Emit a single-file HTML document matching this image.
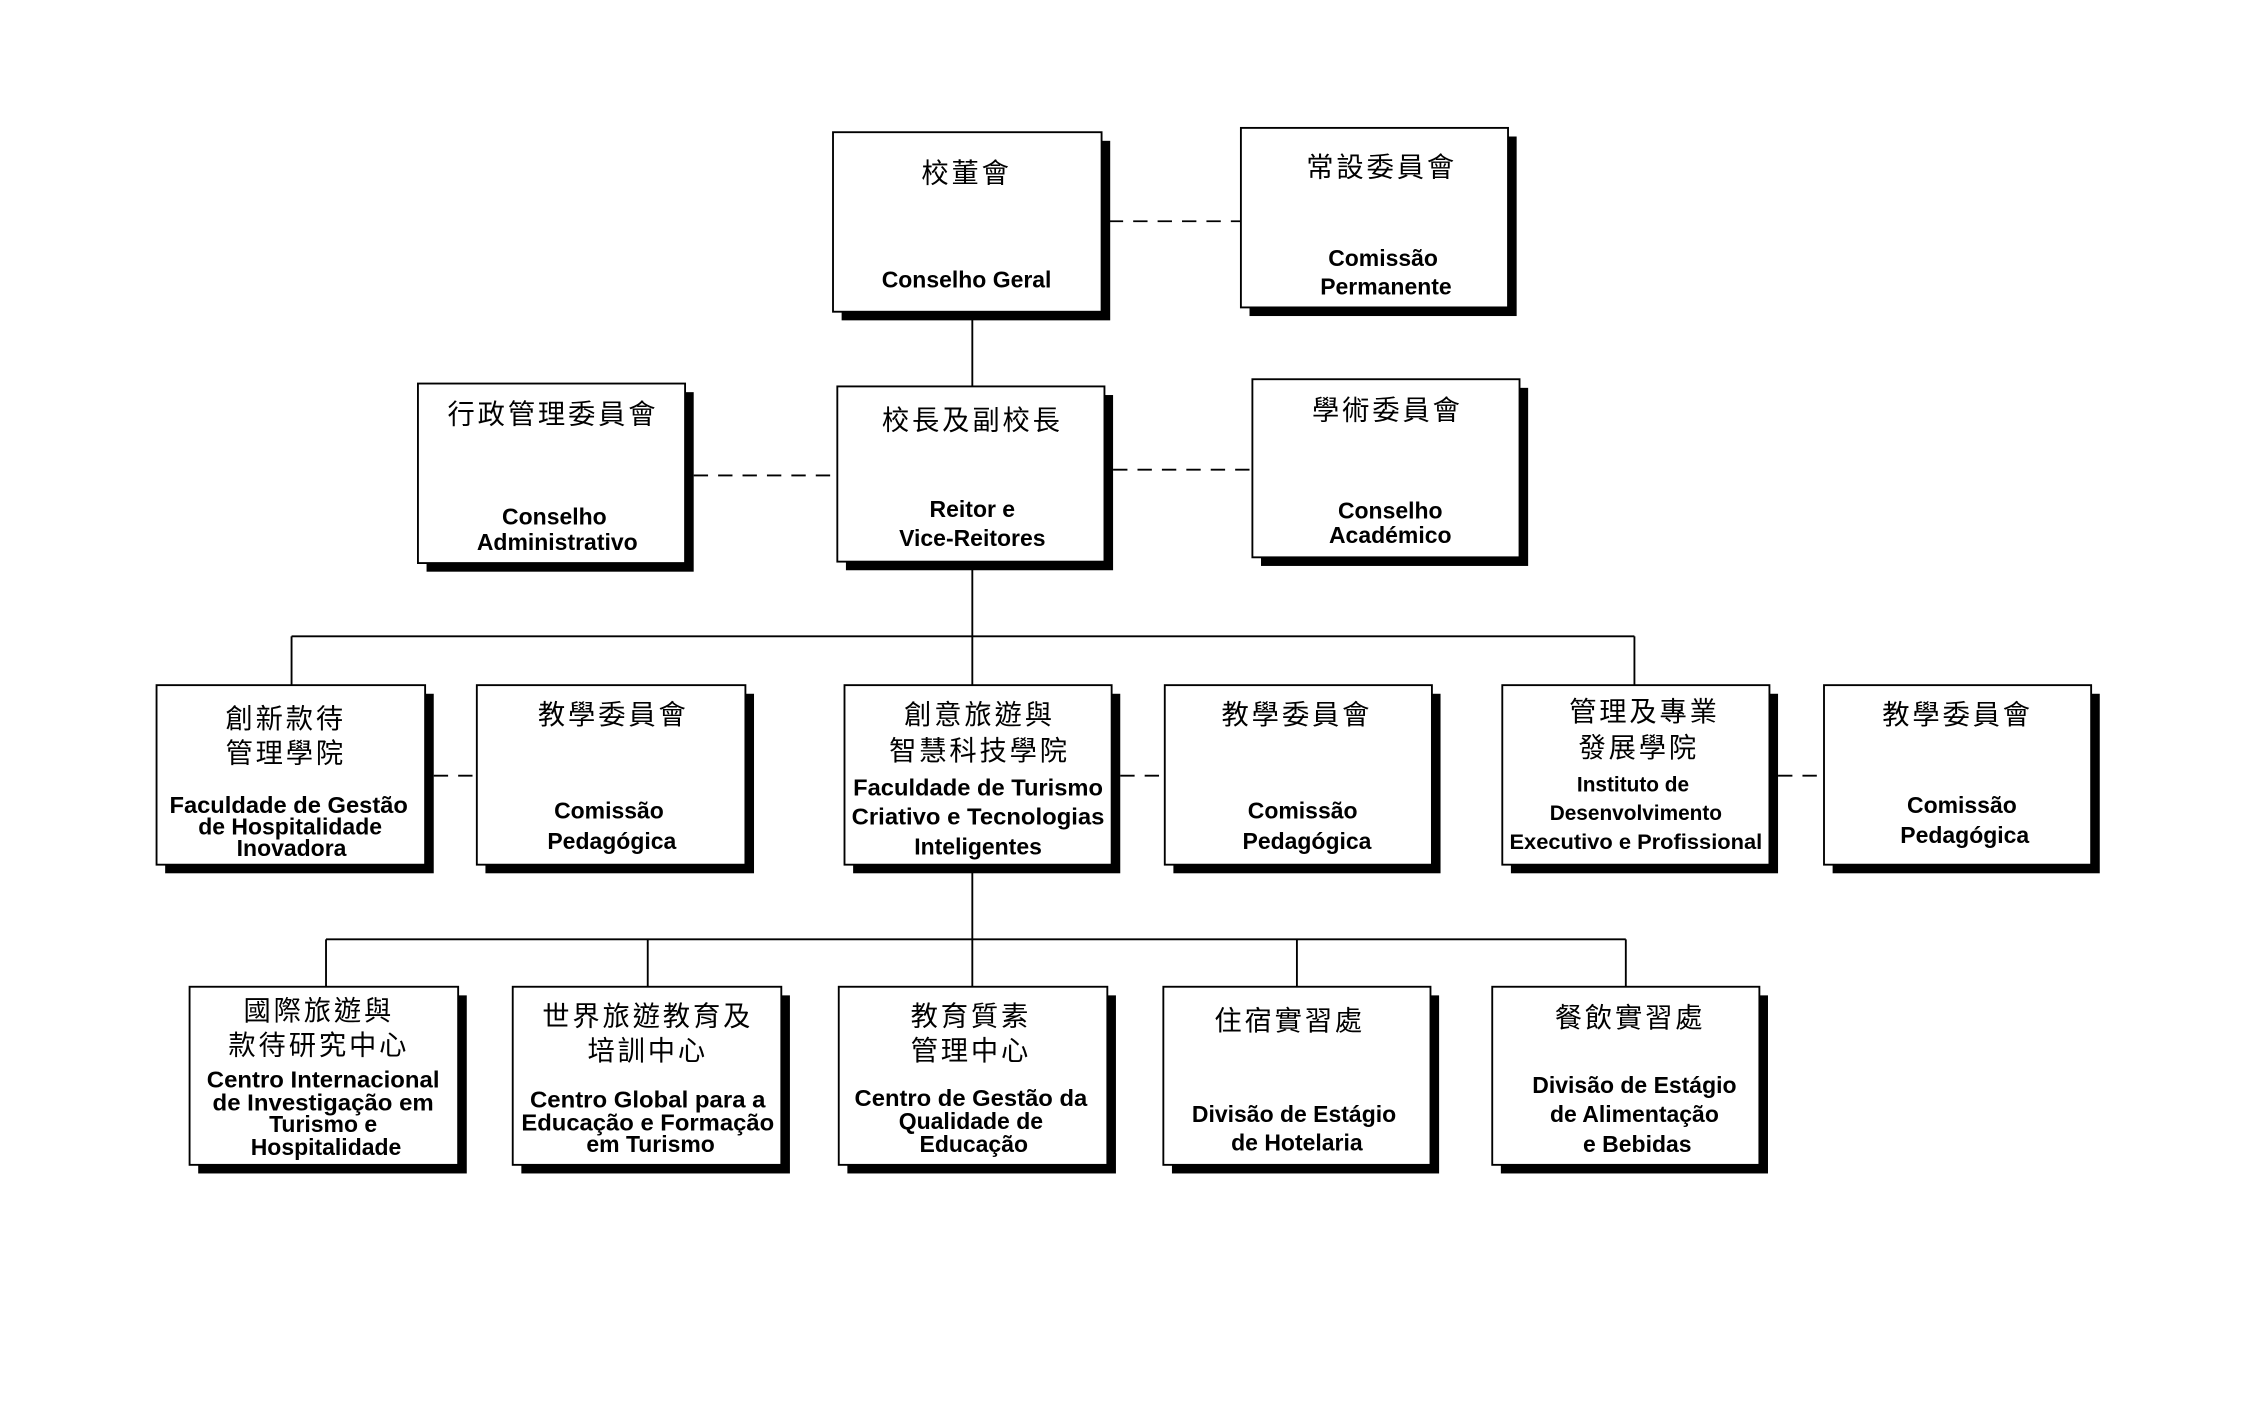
<!DOCTYPE html>
<html><head><meta charset="utf-8"><style>
html,body{margin:0;padding:0;background:#fff;}
svg{display:block}
.c{font-family:"Liberation Sans","Noto Sans CJK TC",sans-serif;font-size:19px;letter-spacing:2px;text-anchor:middle;fill:#000}
.l{font-family:"Liberation Sans",sans-serif;font-weight:bold;font-size:16px;text-anchor:middle;fill:#000}
.s{font-size:14.5px}
</style></head><body>
<svg width="2252" height="1422" viewBox="0 0 1568 990" xmlns="http://www.w3.org/2000/svg">
<g stroke="#000" stroke-width="1.3" fill="none">
<line x1="677" y1="217" x2="677" y2="269"/>
<line x1="677" y1="391" x2="677" y2="477"/>
<line x1="203" y1="443" x2="1138" y2="443"/>
<line x1="203" y1="443" x2="203" y2="477"/>
<line x1="1138" y1="443" x2="1138" y2="477"/>
<line x1="677" y1="602" x2="677" y2="687"/>
<line x1="227" y1="654" x2="1132" y2="654"/>
<line x1="227" y1="654" x2="227" y2="687"/>
<line x1="451" y1="654" x2="451" y2="687"/>
<line x1="903" y1="654" x2="903" y2="687"/>
<line x1="1132" y1="654" x2="1132" y2="687"/>
<g stroke-dasharray="10,7">
<line x1="772" y1="154" x2="864" y2="154"/>
<line x1="483" y1="331" x2="583" y2="331"/>
<line x1="775" y1="327" x2="872" y2="327"/>
<line x1="302" y1="540" x2="332" y2="540"/>
<line x1="780" y1="540" x2="811" y2="540"/>
<line x1="1238" y1="540" x2="1270" y2="540"/>
</g>
</g>
<g fill="#000">
<rect x="586" y="98" width="187" height="125"/>
<rect x="870" y="95" width="186" height="125"/>
<rect x="589" y="275" width="186" height="122"/>
<rect x="297" y="273" width="186" height="125"/>
<rect x="878" y="270" width="186" height="124"/>
<rect x="115" y="483" width="187" height="125"/>
<rect x="338" y="483" width="187" height="125"/>
<rect x="594" y="483" width="186" height="125"/>
<rect x="817" y="483" width="186" height="125"/>
<rect x="1052" y="483" width="186" height="125"/>
<rect x="1276" y="483" width="186" height="125"/>
<rect x="138" y="693" width="187" height="124"/>
<rect x="363" y="693" width="187" height="124"/>
<rect x="590" y="693" width="187" height="124"/>
<rect x="816" y="693" width="186" height="124"/>
<rect x="1045" y="693" width="186" height="124"/>
</g>
<g fill="#fff" stroke="#000" stroke-width="1.3">
<rect x="580" y="92" width="187" height="125"/>
<rect x="864" y="89" width="186" height="125"/>
<rect x="583" y="269" width="186" height="122"/>
<rect x="291" y="267" width="186" height="125"/>
<rect x="872" y="264" width="186" height="124"/>
<rect x="109" y="477" width="187" height="125"/>
<rect x="332" y="477" width="187" height="125"/>
<rect x="588" y="477" width="186" height="125"/>
<rect x="811" y="477" width="186" height="125"/>
<rect x="1046" y="477" width="186" height="125"/>
<rect x="1270" y="477" width="186" height="125"/>
<rect x="132" y="687" width="187" height="124"/>
<rect x="357" y="687" width="187" height="124"/>
<rect x="584" y="687" width="187" height="124"/>
<rect x="810" y="687" width="186" height="124"/>
<rect x="1039" y="687" width="186" height="124"/>
</g>
<g>
<text class="c" x="673" y="127">校董會</text>
<text class="l" x="673" y="200">Conselho Geral</text>
<text class="c" x="962" y="123">常設委員會</text>
<text class="l" x="963" y="185">Comissão</text>
<text class="l" x="965" y="205">Permanente</text>
<text class="c" x="677" y="299">校長及副校長</text>
<text class="l" x="677" y="360">Reitor e</text>
<text class="l" x="677" y="380">Vice-Reitores</text>
<text class="c" x="385" y="295">行政管理委員會</text>
<text class="l" x="386" y="365">Conselho</text>
<text class="l" x="388" y="383">Administrativo</text>
<text class="c" x="966" y="292">學術委員會</text>
<text class="l" x="968" y="361">Conselho</text>
<text class="l" x="968" y="378">Académico</text>

<text class="c" x="199" y="507">創新款待</text>
<text class="c" x="199" y="531">管理學院</text>
<text class="l" x="201" y="566" textLength="166" lengthAdjust="spacingAndGlyphs">Faculdade de Gestão</text>
<text class="l" x="202" y="581">de Hospitalidade</text>
<text class="l" x="203" y="596">Inovadora</text>
<text class="c" x="427" y="504">教學委員會</text>
<text class="l" x="424" y="570">Comissão</text>
<text class="l" x="426" y="591">Pedagógica</text>
<text class="c" x="682" y="504">創意旅遊與</text>
<text class="c" x="682" y="529">智慧科技學院</text>
<text class="l" x="681" y="554" textLength="174" lengthAdjust="spacingAndGlyphs">Faculdade de Turismo</text>
<text class="l" x="681" y="574" textLength="176" lengthAdjust="spacingAndGlyphs">Criativo e Tecnologias</text>
<text class="l" x="681" y="595">Inteligentes</text>
<text class="c" x="903" y="504">教學委員會</text>
<text class="l" x="907" y="570">Comissão</text>
<text class="l" x="910" y="591">Pedagógica</text>
<text class="c" x="1145" y="502">管理及專業</text>
<text class="c" x="1141" y="527">發展學院</text>
<text class="l s" x="1137" y="551">Instituto de</text>
<text class="l s" x="1139" y="571">Desenvolvimento</text>
<text class="l s" x="1139" y="591" textLength="176" lengthAdjust="spacingAndGlyphs">Executivo e Profissional</text>
<text class="c" x="1363" y="504">教學委員會</text>
<text class="l" x="1366" y="566">Comissão</text>
<text class="l" x="1368" y="587">Pedagógica</text>

<text class="c" x="222" y="710">國際旅遊與</text>
<text class="c" x="222" y="734">款待研究中心</text>
<text class="l" x="225" y="757" textLength="162" lengthAdjust="spacingAndGlyphs">Centro Internacional</text>
<text class="l" x="225" y="773" textLength="154" lengthAdjust="spacingAndGlyphs">de Investigação em</text>
<text class="l" x="225" y="788">Turismo e</text>
<text class="l" x="227" y="804">Hospitalidade</text>
<text class="c" x="451" y="714">世界旅遊教育及</text>
<text class="c" x="451" y="738">培訓中心</text>
<text class="l" x="451" y="771" textLength="164" lengthAdjust="spacingAndGlyphs">Centro Global para a</text>
<text class="l" x="451" y="787" textLength="176" lengthAdjust="spacingAndGlyphs">Educação e Formação</text>
<text class="l" x="453" y="802">em Turismo</text>
<text class="c" x="676" y="714">教育質素</text>
<text class="c" x="676" y="738">管理中心</text>
<text class="l" x="676" y="770" textLength="162" lengthAdjust="spacingAndGlyphs">Centro de Gestão da</text>
<text class="l" x="676" y="786">Qualidade de</text>
<text class="l" x="678" y="802">Educação</text>
<text class="c" x="898" y="717">住宿實習處</text>
<text class="l" x="901" y="781">Divisão de Estágio</text>
<text class="l" x="903" y="801">de Hotelaria</text>
<text class="c" x="1135" y="715">餐飲實習處</text>
<text class="l" x="1138" y="761">Divisão de Estágio</text>
<text class="l" x="1138" y="781">de Alimentação</text>
<text class="l" x="1140" y="802">e Bebidas</text>
</g>
</svg>
</body></html>
